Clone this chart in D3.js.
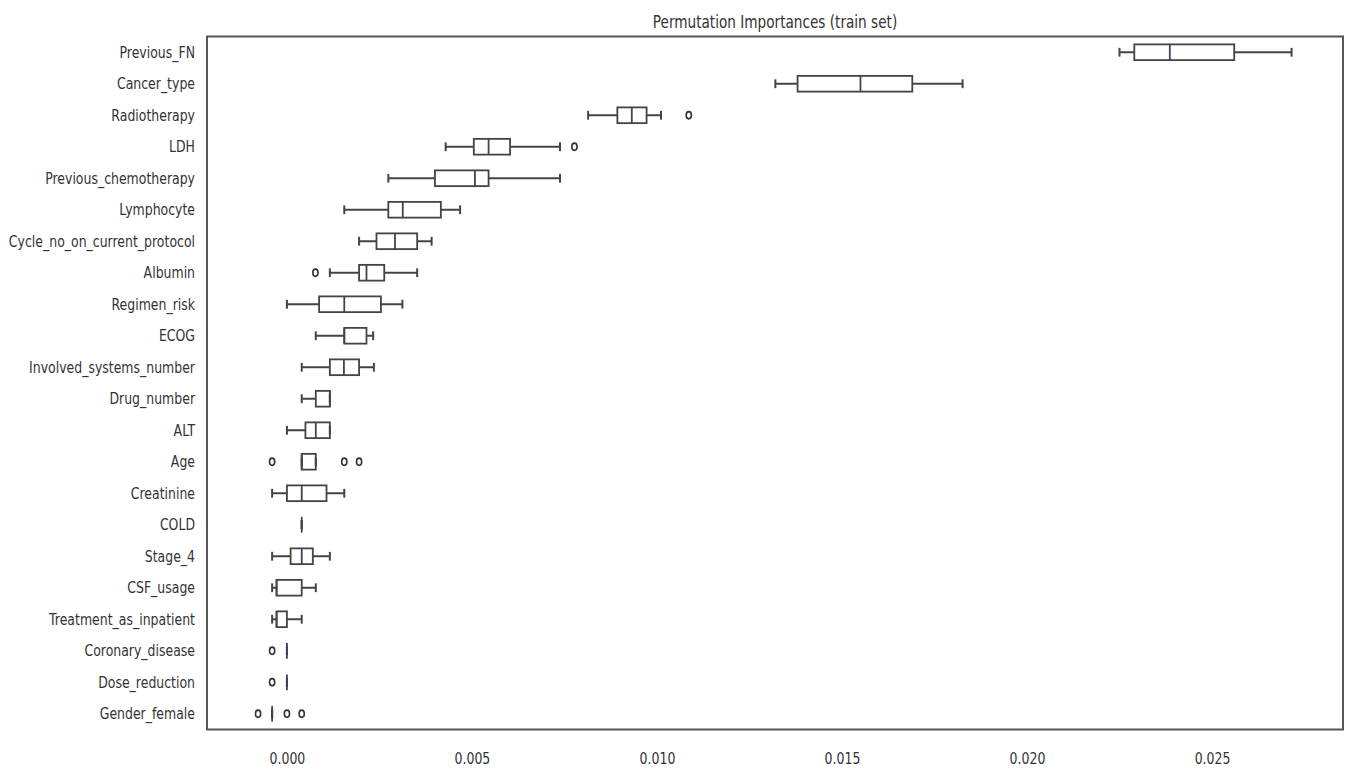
<!DOCTYPE html>
<html>
<head>
<meta charset="utf-8">
<script src="https://cdn.jsdelivr.net/npm/d3@7"></script>
<style>
  html, body { margin: 0; padding: 0; background: #fff; }
  svg { display: block; }
  text { font-family: "DejaVu Sans", sans-serif; fill: #333; }
</style>
</head>
<body>
<svg id="chart" width="1349" height="771"></svg>
<script>
// ---- data ----
const features = ["Previous_FN","Cancer_type","Radiotherapy","LDH","Previous_chemotherapy","Lymphocyte",
  "Cycle_no_on_current_protocol","Albumin","Regimen_risk","ECOG","Involved_systems_number","Drug_number",
  "ALT","Age","Creatinine","COLD","Stage_4","CSF_usage","Treatment_as_inpatient","Coronary_disease",
  "Dose_reduction","Gender_female"];
const whiskerLow  = [0.0225, 0.0132, 0.00814, 0.00429, 0.00274, 0.00155, 0.00195, 0.00116, 0.0000, 0.00078, 0.0004, 0.0004, 0.0000, 0.0004, -0.0004, 0.0004, -0.0004, -0.0004, -0.0004, 0.0, 0.0, -0.0004];
const q1          = [0.0229, 0.0138, 0.00893, 0.00505, 0.0040, 0.00274, 0.00242, 0.00195, 0.00087, 0.00155, 0.00116, 0.00078, 0.0005, 0.0004, 0.0000, 0.0004, 0.0001, -0.00028, -0.00028, 0.0, 0.0, -0.0004];
const medians     = [0.02386, 0.0155, 0.00932, 0.00545, 0.00508, 0.00313, 0.00292, 0.00215, 0.00155, 0.00155, 0.00154, 0.00116, 0.00078, 0.0004, 0.0004, 0.0004, 0.0004, -0.00028, -0.00028, 0.0, 0.0, -0.0004];
const q3          = [0.0256, 0.0169, 0.00972, 0.00603, 0.00545, 0.00416, 0.00352, 0.00263, 0.00254, 0.00215, 0.00195, 0.00116, 0.00116, 0.00078, 0.00107, 0.0004, 0.0007, 0.0004, 0.0, 0.0, 0.0, -0.0004];
const whiskerHigh = [0.02715, 0.01826, 0.01011, 0.00738, 0.00738, 0.00468, 0.00391, 0.00352, 0.00312, 0.00233, 0.00235, 0.00116, 0.00116, 0.00078, 0.00155, 0.0004, 0.00116, 0.00078, 0.0004, 0.0, 0.0, -0.0004];
const outliers    = [[], [], [0.01086], [0.00777], [], [], [], [0.00077], [], [], [], [], [], [-0.0004, 0.00155, 0.00195], [], [], [], [], [], [-0.0004], [-0.0004], [-0.00078, 0.0, 0.0004]];
const xTicks = [0.000, 0.005, 0.010, 0.015, 0.020, 0.025];
const xDomain = [-0.00216, 0.02854];
const chartTitle = "Permutation Importances (train set)";

// ---- layout ----
const svg = d3.select("#chart");
const mLeft = 207, mRight = 1343, mTop = 36.5, mBottom = 729.5;
const sx = 0.757;        // horizontal squeeze of the text in the reference
const fontSize = 16.5;
const ink = "#333";

const x = d3.scaleLinear().domain(xDomain).range([mLeft, mRight]);
const y = d3.scaleBand().domain(features).range([mTop, mBottom]).padding(0);
const bw = y.bandwidth();
const yc = f => y(f) + bw / 2;
const boxH = bw * 0.5;
const capH = bw * 0.28;

// title
svg.append("text")
  .attr("transform", `translate(${(mLeft + mRight) / 2},28) scale(${sx},1)`)
  .attr("text-anchor", "middle")
  .style("font-size", "18px")
  .text(chartTitle);

// x axis
const xAxis = svg.append("g")
  .attr("transform", `translate(0,${mBottom})`)
  .call(d3.axisBottom(x).tickValues(xTicks).tickFormat(d3.format(".3f")).tickSize(0).tickPadding(23));
xAxis.select(".domain").remove();
xAxis.selectAll("text")
  .attr("transform", `scale(${sx},1)`)
  .style("font-size", fontSize + "px")
  .style("font-family", '"DejaVu Sans", sans-serif')
  .attr("fill", ink);

// y axis
const yAxis = svg.append("g")
  .attr("transform", `translate(${mLeft},0)`)
  .call(d3.axisLeft(y).tickSize(0).tickPadding(12 / sx));
yAxis.select(".domain").remove();
yAxis.selectAll("text")
  .attr("transform", `scale(${sx},1)`)
  .style("font-size", fontSize + "px")
  .style("font-family", '"DejaVu Sans", sans-serif')
  .attr("fill", ink);

// boxes
const rows = features.map((f, i) => ({
  f, lo: whiskerLow[i], q1: q1[i], med: medians[i], q3: q3[i], hi: whiskerHigh[i], out: outliers[i]
}));

const g = svg.append("g");
const row = g.selectAll("g.row").data(rows).join("g").attr("class", "row");

// whiskers
row.append("line")
  .attr("x1", d => x(d.lo)).attr("x2", d => x(d.q1))
  .attr("y1", d => yc(d.f)).attr("y2", d => yc(d.f))
  .attr("stroke", "#444").attr("stroke-width", 2);
row.append("line")
  .attr("x1", d => x(d.q3)).attr("x2", d => x(d.hi))
  .attr("y1", d => yc(d.f)).attr("y2", d => yc(d.f))
  .attr("stroke", "#444").attr("stroke-width", 2);
// caps
row.append("line")
  .attr("x1", d => x(d.lo)).attr("x2", d => x(d.lo))
  .attr("y1", d => yc(d.f) - capH / 2).attr("y2", d => yc(d.f) + capH / 2)
  .attr("stroke", "#444").attr("stroke-width", 2);
row.append("line")
  .attr("x1", d => x(d.hi)).attr("x2", d => x(d.hi))
  .attr("y1", d => yc(d.f) - capH / 2).attr("y2", d => yc(d.f) + capH / 2)
  .attr("stroke", "#444").attr("stroke-width", 2);
// box
row.append("rect")
  .attr("x", d => x(d.q1)).attr("width", d => Math.max(0, x(d.q3) - x(d.q1)))
  .attr("y", d => yc(d.f) - boxH / 2).attr("height", boxH)
  .attr("fill", "none").attr("stroke", "#444").attr("stroke-width", 1.8);
// median
row.append("line")
  .attr("x1", d => x(d.med)).attr("x2", d => x(d.med))
  .attr("y1", d => yc(d.f) - boxH / 2).attr("y2", d => yc(d.f) + boxH / 2)
  .attr("stroke", "#3f4458").attr("stroke-width", 1.8);
// outliers
row.selectAll("ellipse").data(d => d.out.map(v => ({ v, f: d.f }))).join("ellipse")
  .attr("cx", d => x(d.v)).attr("cy", d => yc(d.f))
  .attr("rx", 2.6).attr("ry", 3.6)
  .attr("fill", "none").attr("stroke", "#333").attr("stroke-width", 1.6);

// frame
svg.append("rect")
  .attr("x", mLeft).attr("y", mTop).attr("width", mRight - mLeft).attr("height", mBottom - mTop)
  .attr("fill", "none").attr("stroke", "#555").attr("stroke-width", 2);
</script>
</body>
</html>
